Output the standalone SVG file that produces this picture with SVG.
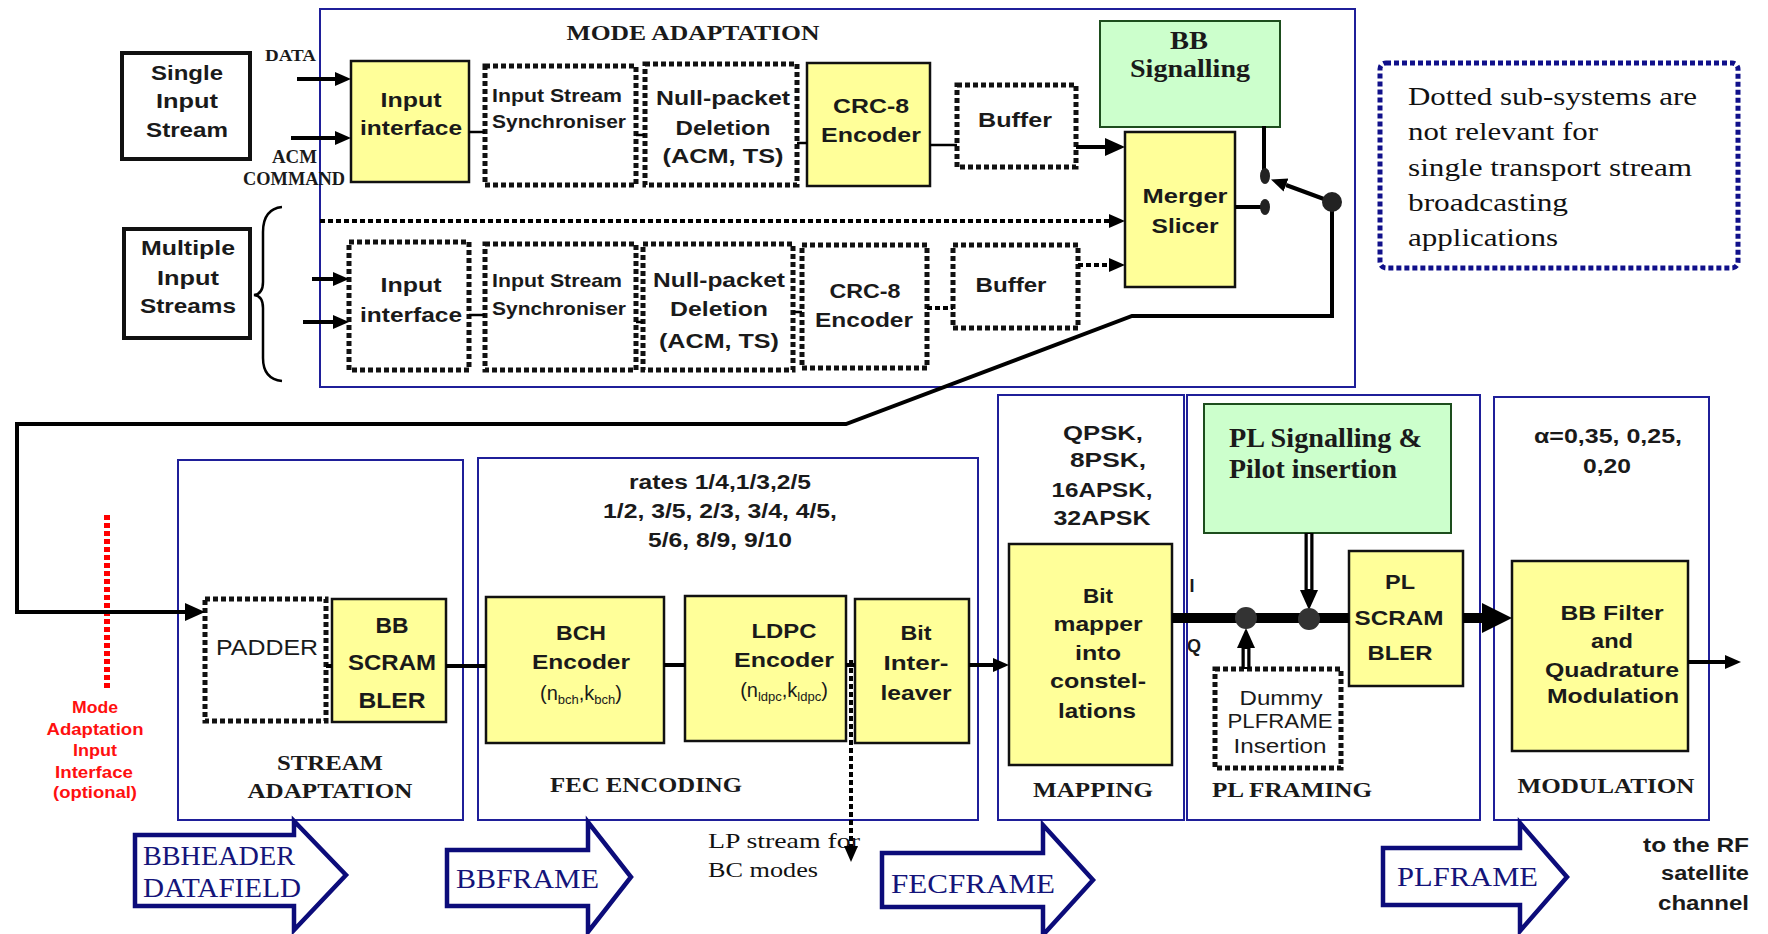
<svg xmlns="http://www.w3.org/2000/svg" width="1768" height="934" viewBox="0 0 1768 934">
<style>
.sec{fill:none;stroke:#1f1f99;stroke-width:2}
.yel{fill:#ffff99;stroke:#111;stroke-width:2.5}
.grn{fill:#ccffcc;stroke:#1d4d1d;stroke-width:2}
.dot{fill:#fff;stroke:#111;stroke-width:5;stroke-dasharray:5 3}
.frm{fill:#fff;stroke:#111;stroke-width:4}
.ln{fill:none;stroke:#000;stroke-width:4}
.thin{fill:none;stroke:#000;stroke-width:2.5}
.dl{fill:none;stroke:#000;stroke-width:4;stroke-dasharray:5 3}
.bar{fill:none;stroke:#000;stroke-width:10}
.hol{fill:none;stroke:#000;stroke-width:9}
.holw{fill:none;stroke:#fff;stroke-width:2.5}
.big{fill:#fff;stroke:#0c0c7a;stroke-width:4.5;stroke-linejoin:miter}
.sb{font-family:"Liberation Sans",Arial,sans-serif;font-weight:bold;fill:#1a1a1a}
.sr{font-family:"Liberation Sans",Arial,sans-serif;font-weight:normal;fill:#1a1a1a}
.fb{font-family:"Liberation Serif","Times New Roman",serif;font-weight:bold;fill:#1a1a1a}
.fr{font-family:"Liberation Serif","Times New Roman",serif;font-weight:normal;fill:#111}
.nv{font-family:"Liberation Serif","Times New Roman",serif;font-weight:normal;fill:#14147a}
.red{font-family:"Liberation Sans",Arial,sans-serif;font-weight:bold;fill:#ff1010}
.m{text-anchor:middle}
.e{text-anchor:end}
</style>
<defs>
<marker id="a" viewBox="0 -8 18 16" refX="0" refY="0" markerWidth="18" markerHeight="16" markerUnits="userSpaceOnUse" orient="auto"><path d="M0,-7 L16,0 L0,7 Z" fill="#000" stroke="none"/></marker>
<marker id="b" viewBox="0 -10 22 20" refX="0" refY="0" markerWidth="22" markerHeight="20" markerUnits="userSpaceOnUse" orient="auto"><path d="M0,-9 L20,0 L0,9 Z" fill="#000" stroke="none"/></marker>
<marker id="L" viewBox="0 -16 32 32" refX="0" refY="0" markerWidth="32" markerHeight="32" markerUnits="userSpaceOnUse" orient="auto"><path d="M0,-15 L30,0 L0,15 Z" fill="#000" stroke="none"/></marker>
</defs>
<rect width="1768" height="934" fill="#fff"/>

<g id="mode-adaptation">
<rect class="sec" x="320" y="9" width="1035" height="378"/>
<text class="fb m" x="693" y="40" font-size="22" textLength="253" lengthAdjust="spacingAndGlyphs">MODE ADAPTATION</text>
</g>

<g id="single-input-stream">
<rect class="frm" x="122" y="53" width="128" height="106"/>
<text class="sb m" x="187" y="80" font-size="20" textLength="72" lengthAdjust="spacingAndGlyphs">Single</text>
<text class="sb m" x="187" y="108" font-size="20" textLength="62" lengthAdjust="spacingAndGlyphs">Input</text>
<text class="sb m" x="187" y="137" font-size="20" textLength="82" lengthAdjust="spacingAndGlyphs">Stream</text>
</g>
<g id="multiple-input-streams">
<rect class="frm" x="124" y="229" width="126" height="109"/>
<text class="sb m" x="188" y="255" font-size="20" textLength="94" lengthAdjust="spacingAndGlyphs">Multiple</text>
<text class="sb m" x="188" y="285" font-size="20" textLength="62" lengthAdjust="spacingAndGlyphs">Input</text>
<text class="sb m" x="188" y="313" font-size="20" textLength="96" lengthAdjust="spacingAndGlyphs">Streams</text>
<path class="thin" d="M282,207 Q263,209 263,232 L263,282 Q263,294 254,295 Q263,296 263,308 L263,358 Q263,379 282,381"/>
</g>
<g id="input-labels">
<text class="fb" x="265" y="61" font-size="17" textLength="51" lengthAdjust="spacingAndGlyphs">DATA</text>
<text class="fb" x="272" y="163" font-size="18" textLength="45" lengthAdjust="spacingAndGlyphs">ACM</text>
<text class="fb" x="243" y="185" font-size="18" textLength="102" lengthAdjust="spacingAndGlyphs">COMMAND</text>
</g>

<g id="input-interface-1">
<rect class="yel" x="351" y="61" width="118" height="121"/>
<text class="sb m" x="411" y="107" font-size="21" textLength="61" lengthAdjust="spacingAndGlyphs">Input</text>
<text class="sb m" x="411" y="135" font-size="21" textLength="102" lengthAdjust="spacingAndGlyphs">interface</text>
</g>
<g id="iss-1">
<rect class="dot" x="485" y="66" width="151" height="119"/>
<text class="sb" x="492" y="102" font-size="19" textLength="130" lengthAdjust="spacingAndGlyphs">Input Stream</text>
<text class="sb" x="492" y="128" font-size="19" textLength="134" lengthAdjust="spacingAndGlyphs">Synchroniser</text>
</g>
<g id="npd-1">
<rect class="dot" x="645" y="64" width="152" height="121"/>
<text class="sb m" x="723" y="105" font-size="21" textLength="134" lengthAdjust="spacingAndGlyphs">Null-packet</text>
<text class="sb m" x="723" y="135" font-size="21" textLength="95" lengthAdjust="spacingAndGlyphs">Deletion</text>
<text class="sb m" x="723" y="163" font-size="21" textLength="121" lengthAdjust="spacingAndGlyphs">(ACM, TS)</text>
</g>
<g id="crc8-1">
<rect class="yel" x="807" y="63" width="123" height="123"/>
<text class="sb m" x="871" y="113" font-size="21" textLength="76" lengthAdjust="spacingAndGlyphs">CRC-8</text>
<text class="sb m" x="871" y="142" font-size="21" textLength="100" lengthAdjust="spacingAndGlyphs">Encoder</text>
</g>
<g id="buffer-1">
<rect class="dot" x="957" y="85" width="119" height="82"/>
<text class="sb m" x="1015" y="127" font-size="21" textLength="74" lengthAdjust="spacingAndGlyphs">Buffer</text>
</g>
<g id="bb-signalling">
<rect class="grn" x="1100" y="21" width="180" height="106"/>
<text class="fb m" x="1189" y="49" font-size="25" textLength="38" lengthAdjust="spacingAndGlyphs">BB</text>
<text class="fb m" x="1190" y="77" font-size="25" textLength="120" lengthAdjust="spacingAndGlyphs">Signalling</text>
</g>
<g id="merger-slicer">
<rect class="yel" x="1125" y="132" width="110" height="155" stroke-width="4"/>
<text class="sb m" x="1185" y="203" font-size="21" textLength="85" lengthAdjust="spacingAndGlyphs">Merger</text>
<text class="sb m" x="1185" y="233" font-size="21" textLength="67" lengthAdjust="spacingAndGlyphs">Slicer</text>
</g>
<g id="input-interface-2">
<rect class="dot" x="349" y="242" width="120" height="128"/>
<text class="sb m" x="411" y="292" font-size="21" textLength="61" lengthAdjust="spacingAndGlyphs">Input</text>
<text class="sb m" x="411" y="322" font-size="21" textLength="102" lengthAdjust="spacingAndGlyphs">interface</text>
</g>
<g id="iss-2">
<rect class="dot" x="485" y="244" width="151" height="126"/>
<text class="sb" x="492" y="287" font-size="19" textLength="130" lengthAdjust="spacingAndGlyphs">Input Stream</text>
<text class="sb" x="492" y="315" font-size="19" textLength="134" lengthAdjust="spacingAndGlyphs">Synchroniser</text>
</g>
<g id="npd-2">
<rect class="dot" x="643" y="244" width="150" height="126"/>
<text class="sb m" x="719" y="287" font-size="21" textLength="132" lengthAdjust="spacingAndGlyphs">Null-packet</text>
<text class="sb m" x="719" y="316" font-size="21" textLength="98" lengthAdjust="spacingAndGlyphs">Deletion</text>
<text class="sb m" x="719" y="348" font-size="21" textLength="120" lengthAdjust="spacingAndGlyphs">(ACM, TS)</text>
</g>
<g id="crc8-2">
<rect class="dot" x="802" y="245" width="125" height="123"/>
<text class="sb m" x="865" y="298" font-size="21" textLength="71" lengthAdjust="spacingAndGlyphs">CRC-8</text>
<text class="sb m" x="864" y="327" font-size="21" textLength="98" lengthAdjust="spacingAndGlyphs">Encoder</text>
</g>
<g id="buffer-2">
<rect class="dot" x="953" y="245" width="125" height="83"/>
<text class="sb m" x="1011" y="292" font-size="21" textLength="71" lengthAdjust="spacingAndGlyphs">Buffer</text>
</g>

<g id="note">
<rect x="1380" y="63" width="358" height="205" rx="6" fill="none" stroke="#10108a" stroke-width="5" stroke-dasharray="5 3"/>
<text class="fr" x="1408" y="105" font-size="25" textLength="289" lengthAdjust="spacingAndGlyphs">Dotted sub-systems are</text>
<text class="fr" x="1408" y="140" font-size="25" textLength="190" lengthAdjust="spacingAndGlyphs">not relevant for</text>
<text class="fr" x="1408" y="176" font-size="25" textLength="284" lengthAdjust="spacingAndGlyphs">single transport stream</text>
<text class="fr" x="1408" y="211" font-size="25" textLength="160" lengthAdjust="spacingAndGlyphs">broadcasting</text>
<text class="fr" x="1408" y="246" font-size="25" textLength="150" lengthAdjust="spacingAndGlyphs">applications</text>
</g>

<g id="mode-adaptation-interface">
<line x1="107" y1="515" x2="107" y2="690" stroke="#ff0000" stroke-width="6" stroke-dasharray="5 3"/>
<text class="red m" x="95" y="713" font-size="17" textLength="46" lengthAdjust="spacingAndGlyphs">Mode</text>
<text class="red m" x="95" y="735" font-size="17" textLength="97" lengthAdjust="spacingAndGlyphs">Adaptation</text>
<text class="red m" x="95" y="756" font-size="17" textLength="44" lengthAdjust="spacingAndGlyphs">Input</text>
<text class="red m" x="94" y="778" font-size="17" textLength="78" lengthAdjust="spacingAndGlyphs">Interface</text>
<text class="red m" x="95" y="798" font-size="17" textLength="84" lengthAdjust="spacingAndGlyphs">(optional)</text>
</g>

<g id="stream-adaptation">
<rect class="sec" x="178" y="460" width="285" height="360"/>
<text class="fb m" x="330" y="770" font-size="22" textLength="106" lengthAdjust="spacingAndGlyphs">STREAM</text>
<text class="fb m" x="330" y="798" font-size="22" textLength="165" lengthAdjust="spacingAndGlyphs">ADAPTATION</text>
</g>
<g id="padder">
<rect class="dot" x="205" y="599" width="121" height="122"/>
<text class="sr m" x="267" y="655" font-size="22" textLength="102" lengthAdjust="spacingAndGlyphs">PADDER</text>
</g>
<g id="bb-scrambler">
<rect class="yel" x="332" y="599" width="114" height="123"/>
<text class="sb m" x="392" y="633" font-size="22" textLength="33" lengthAdjust="spacingAndGlyphs">BB</text>
<text class="sb m" x="392" y="670" font-size="22" textLength="88" lengthAdjust="spacingAndGlyphs">SCRAM</text>
<text class="sb m" x="392" y="708" font-size="22" textLength="67" lengthAdjust="spacingAndGlyphs">BLER</text>
</g>

<g id="fec-encoding">
<rect class="sec" x="478" y="458" width="500" height="362"/>
<text class="sb m" x="720" y="489" font-size="20" textLength="182" lengthAdjust="spacingAndGlyphs">rates 1/4,1/3,2/5</text>
<text class="sb m" x="720" y="518" font-size="20" textLength="234" lengthAdjust="spacingAndGlyphs">1/2, 3/5, 2/3, 3/4, 4/5,</text>
<text class="sb m" x="720" y="547" font-size="20" textLength="144" lengthAdjust="spacingAndGlyphs">5/6, 8/9, 9/10</text>
<text class="fb m" x="646" y="792" font-size="22" textLength="192" lengthAdjust="spacingAndGlyphs">FEC ENCODING</text>
</g>
<g id="bch-encoder">
<rect class="yel" x="486" y="597" width="178" height="146"/>
<text class="sb m" x="581" y="640" font-size="21" textLength="50" lengthAdjust="spacingAndGlyphs">BCH</text>
<text class="sb m" x="581" y="669" font-size="21" textLength="98" lengthAdjust="spacingAndGlyphs">Encoder</text>
<text class="sr m" x="581" y="700" font-size="20">(n<tspan font-size="13" dy="4">bch</tspan><tspan dy="-4">,k</tspan><tspan font-size="13" dy="4">bch</tspan><tspan dy="-4">)</tspan></text>
</g>
<g id="ldpc-encoder">
<rect class="yel" x="685" y="596" width="161" height="145"/>
<text class="sb m" x="784" y="638" font-size="21" textLength="65" lengthAdjust="spacingAndGlyphs">LDPC</text>
<text class="sb m" x="784" y="667" font-size="21" textLength="100" lengthAdjust="spacingAndGlyphs">Encoder</text>
<text class="sr m" x="784" y="697" font-size="20">(n<tspan font-size="13" dy="4">ldpc</tspan><tspan dy="-4">,k</tspan><tspan font-size="13" dy="4">ldpc</tspan><tspan dy="-4">)</tspan></text>
</g>
<g id="bit-interleaver">
<rect class="yel" x="855" y="599" width="114" height="144"/>
<text class="sb m" x="916" y="640" font-size="21" textLength="31" lengthAdjust="spacingAndGlyphs">Bit</text>
<text class="sb m" x="916" y="670" font-size="21" textLength="65" lengthAdjust="spacingAndGlyphs">Inter-</text>
<text class="sb m" x="916" y="700" font-size="21" textLength="71" lengthAdjust="spacingAndGlyphs">leaver</text>
</g>

<g id="mapping">
<rect class="sec" x="998" y="395" width="186" height="425"/>
<text class="sb m" x="1103" y="440" font-size="20" textLength="80" lengthAdjust="spacingAndGlyphs">QPSK,</text>
<text class="sb m" x="1108" y="467" font-size="20" textLength="76" lengthAdjust="spacingAndGlyphs">8PSK,</text>
<text class="sb m" x="1102" y="497" font-size="20" textLength="101" lengthAdjust="spacingAndGlyphs">16APSK,</text>
<text class="sb m" x="1102" y="525" font-size="20" textLength="97" lengthAdjust="spacingAndGlyphs">32APSK</text>
<text class="fb m" x="1093" y="797" font-size="22" textLength="120" lengthAdjust="spacingAndGlyphs">MAPPING</text>
</g>
<g id="bit-mapper">
<rect class="yel" x="1009" y="544" width="163" height="221"/>
<text class="sb m" x="1098" y="603" font-size="21" textLength="30" lengthAdjust="spacingAndGlyphs">Bit</text>
<text class="sb m" x="1098" y="631" font-size="21" textLength="89" lengthAdjust="spacingAndGlyphs">mapper</text>
<text class="sb m" x="1098" y="660" font-size="21" textLength="46" lengthAdjust="spacingAndGlyphs">into</text>
<text class="sb m" x="1098" y="688" font-size="21" textLength="96" lengthAdjust="spacingAndGlyphs">constel-</text>
<text class="sb m" x="1097" y="718" font-size="21" textLength="78" lengthAdjust="spacingAndGlyphs">lations</text>
</g>
<g id="iq-labels">
<text class="sb m" x="1192" y="592" font-size="18">I</text>
<text class="sb m" x="1194" y="652" font-size="18">Q</text>
</g>

<g id="pl-framing">
<rect class="sec" x="1187" y="395" width="293" height="425"/>
<text class="fb m" x="1292" y="797" font-size="22" textLength="160" lengthAdjust="spacingAndGlyphs">PL FRAMING</text>
</g>
<g id="pl-signalling">
<rect class="grn" x="1204" y="404" width="247" height="129"/>
<text class="fb" x="1229" y="447" font-size="27" textLength="193" lengthAdjust="spacingAndGlyphs">PL Signalling &amp;</text>
<text class="fb" x="1229" y="478" font-size="27" textLength="168" lengthAdjust="spacingAndGlyphs">Pilot insertion</text>
</g>
<g id="pl-scrambler">
<rect class="yel" x="1349" y="551" width="114" height="135"/>
<text class="sb m" x="1400" y="589" font-size="21" textLength="30" lengthAdjust="spacingAndGlyphs">PL</text>
<text class="sb m" x="1399" y="625" font-size="21" textLength="89" lengthAdjust="spacingAndGlyphs">SCRAM</text>
<text class="sb m" x="1400" y="660" font-size="21" textLength="65" lengthAdjust="spacingAndGlyphs">BLER</text>
</g>
<g id="dummy-plframe">
<rect class="dot" x="1215" y="669" width="126" height="99"/>
<text class="sr m" x="1281" y="705" font-size="20" textLength="83" lengthAdjust="spacingAndGlyphs">Dummy</text>
<text class="sr m" x="1280" y="728" font-size="20" textLength="105" lengthAdjust="spacingAndGlyphs">PLFRAME</text>
<text class="sr m" x="1280" y="753" font-size="20" textLength="93" lengthAdjust="spacingAndGlyphs">Insertion</text>
</g>

<g id="modulation">
<rect class="sec" x="1494" y="397" width="215" height="423"/>
<text class="sb m" x="1608" y="443" font-size="20" textLength="148" lengthAdjust="spacingAndGlyphs">α=0,35, 0,25,</text>
<text class="sb m" x="1607" y="473" font-size="20" textLength="48" lengthAdjust="spacingAndGlyphs">0,20</text>
<text class="fb m" x="1606" y="793" font-size="22" textLength="177" lengthAdjust="spacingAndGlyphs">MODULATION</text>
</g>
<g id="bb-filter">
<rect class="yel" x="1512" y="561" width="176" height="190"/>
<text class="sb m" x="1612" y="620" font-size="20" textLength="103" lengthAdjust="spacingAndGlyphs">BB Filter</text>
<text class="sb m" x="1612" y="648" font-size="20" textLength="42" lengthAdjust="spacingAndGlyphs">and</text>
<text class="sb m" x="1612" y="677" font-size="20" textLength="134" lengthAdjust="spacingAndGlyphs">Quadrature</text>
<text class="sb m" x="1613" y="703" font-size="20" textLength="132" lengthAdjust="spacingAndGlyphs">Modulation</text>
</g>
<g id="rf-output">
<text class="sb e" x="1749" y="852" font-size="20" textLength="106" lengthAdjust="spacingAndGlyphs">to the RF</text>
<text class="sb e" x="1749" y="880" font-size="20" textLength="88" lengthAdjust="spacingAndGlyphs">satellite</text>
<text class="sb e" x="1749" y="910" font-size="20" textLength="91" lengthAdjust="spacingAndGlyphs">channel</text>
</g>

<g id="frame-arrows">
<g id="bbheader-datafield">
<path class="big" d="M135,835 H294 V821 L346,875 L294,930 V906 H135 Z"/>
<text class="nv" x="143" y="865" font-size="28" textLength="152" lengthAdjust="spacingAndGlyphs">BBHEADER</text>
<text class="nv" x="143" y="897" font-size="28" textLength="158" lengthAdjust="spacingAndGlyphs">DATAFIELD</text>
</g>
<g id="bbframe">
<path class="big" d="M447,850 H588 V822 L631,877 L588,932 V906 H447 Z"/>
<text class="nv" x="456" y="888" font-size="28" textLength="143" lengthAdjust="spacingAndGlyphs">BBFRAME</text>
</g>
<g id="fecframe">
<path class="big" d="M882,853 H1043 V825 L1093,880 L1043,935 V907 H882 Z"/>
<text class="nv" x="891" y="893" font-size="28" textLength="164" lengthAdjust="spacingAndGlyphs">FECFRAME</text>
</g>
<g id="plframe">
<path class="big" d="M1383,848 H1520 V823 L1567,877 L1520,931 V905 H1383 Z"/>
<text class="nv" x="1397" y="886" font-size="28" textLength="141" lengthAdjust="spacingAndGlyphs">PLFRAME</text>
</g>
</g>
<g id="lp-stream-label">
<text class="fr" x="708" y="848" font-size="21" textLength="152" lengthAdjust="spacingAndGlyphs">LP stream for</text>
<text class="fr" x="708" y="877" font-size="21" textLength="110" lengthAdjust="spacingAndGlyphs">BC modes</text>
</g>

<g id="connectors">
<line class="ln" x1="297" y1="79" x2="335" y2="79" stroke-width="5" marker-end="url(#a)"/>
<line class="ln" x1="291" y1="138" x2="335" y2="138" marker-end="url(#a)"/>
<line class="ln" x1="312" y1="279" x2="333" y2="279" marker-end="url(#a)"/>
<line class="ln" x1="303" y1="322" x2="333" y2="322" marker-end="url(#a)"/>
<line class="thin" x1="469" y1="132" x2="485" y2="132"/>
<line class="thin" x1="636" y1="135" x2="645" y2="135"/>
<line class="thin" x1="797" y1="143" x2="807" y2="143"/>
<line class="thin" x1="930" y1="145" x2="957" y2="145"/>
<line class="ln" x1="1076" y1="147" x2="1105" y2="147" marker-end="url(#b)"/>
<line class="dl" x1="320" y1="221" x2="1109" y2="221" marker-end="url(#a)"/>
<line class="thin" x1="469" y1="315" x2="485" y2="315"/>
<line class="thin" x1="636" y1="322" x2="643" y2="322"/>
<line class="thin" x1="793" y1="312" x2="802" y2="312"/>
<line class="dl" x1="927" y1="308" x2="953" y2="308"/>
<line class="dl" x1="1078" y1="265" x2="1109" y2="265" marker-end="url(#a)"/>
<line class="ln" x1="1264" y1="126" x2="1264" y2="170"/>
<ellipse cx="1265" cy="176" rx="5" ry="8" fill="#222"/>
<line class="ln" x1="1235" y1="207" x2="1262" y2="207" stroke-width="5"/>
<ellipse cx="1265" cy="207" rx="5" ry="8" fill="#222"/>
<line class="ln" x1="1332" y1="202" x2="1286" y2="185" marker-end="url(#a)"/>
<polyline class="ln" points="1332,202 1332,316 1132,316 846,424 17,424 17,612 185,612" marker-end="url(#b)"/>
<circle cx="1332" cy="202" r="10" fill="#222"/>
<line class="ln" x1="326" y1="666" x2="332" y2="666"/>
<line class="ln" x1="446" y1="666" x2="486" y2="666"/>
<line class="ln" x1="664" y1="665" x2="685" y2="665" stroke-width="5"/>
<line class="ln" x1="846" y1="665" x2="855" y2="665" stroke-width="5"/>
<line class="ln" x1="969" y1="665" x2="993" y2="665" stroke-width="5" marker-end="url(#a)"/>
<line class="dl" x1="851" y1="660" x2="851" y2="846" marker-end="url(#a)"/>
<line class="bar" x1="1172" y1="618" x2="1349" y2="618"/>
<line class="bar" x1="1463" y1="618" x2="1482" y2="618" marker-end="url(#L)"/>
<line class="hol" x1="1309" y1="533" x2="1309" y2="590" marker-end="url(#b)"/>
<line class="holw" x1="1309" y1="534" x2="1309" y2="589"/>
<line class="hol" x1="1246" y1="669" x2="1246" y2="648" marker-end="url(#b)"/>
<line class="holw" x1="1246" y1="667" x2="1246" y2="649"/>
<circle cx="1246" cy="618" r="11" fill="#333"/>
<circle cx="1309" cy="619" r="11" fill="#333"/>
<line class="ln" x1="1688" y1="662" x2="1725" y2="662" marker-end="url(#a)"/>
</g>
</svg>
